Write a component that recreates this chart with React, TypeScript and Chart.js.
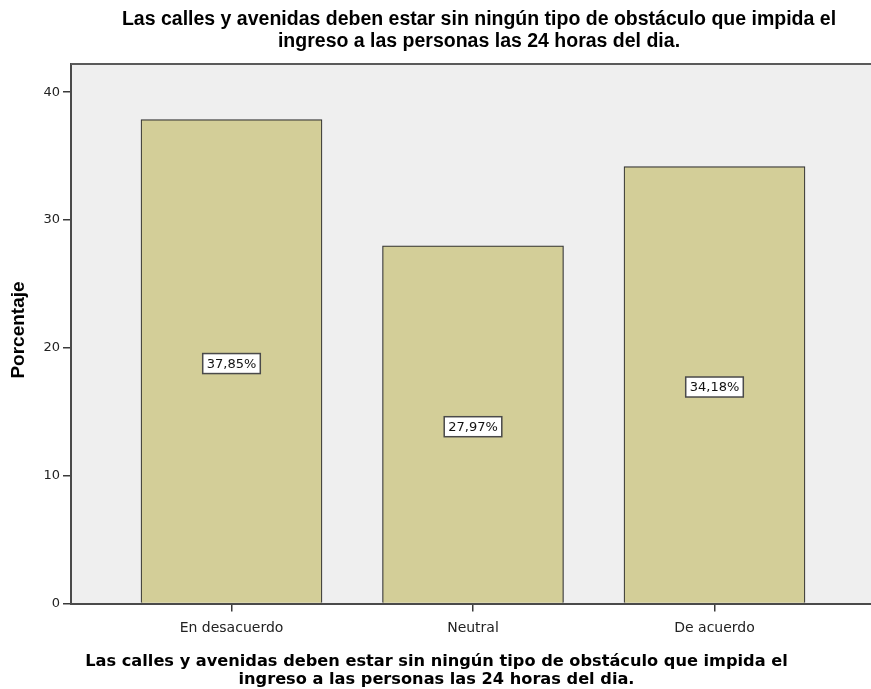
import React, { useEffect, useRef } from "react";
import { Chart, registerables } from "chart.js";

Chart.register(...registerables);

const categories = ["En desacuerdo", "Neutral", "De acuerdo"];
const percentages = [37.85, 27.97, 34.18];
const valueLabels = ["37,85%", "27,97%", "34,18%"];
const yTicks = [0, 10, 20, 30, 40];
const titleLines = [
  "Las calles y avenidas deben estar sin ningún tipo de obstáculo que impida el",
  "ingreso a las personas las 24 horas del dia.",
];
const yAxisTitle = "Porcentaje";

const CANVAS_W = 871;
const CANVAS_H = 689;

export default function App() {
  const ref = useRef<HTMLCanvasElement | null>(null);

  useEffect(() => {
    const canvas = ref.current;
    if (!canvas) return;

    const bgPlugin = {
      id: "bgPlugin",
      beforeDraw(chart: any) {
        const { ctx, chartArea } = chart;
        ctx.save();
        ctx.fillStyle = "#efefef";
        ctx.fillRect(chartArea.left, chartArea.top, chartArea.right - chartArea.left, chartArea.bottom - chartArea.top);
        ctx.restore();
      },
      afterDraw(chart: any) {
        const { ctx, chartArea } = chart;
        ctx.save();
        ctx.strokeStyle = "#5a5a5a";
        ctx.lineWidth = 2;
        ctx.beginPath();
        ctx.moveTo(chartArea.left, chartArea.top);
        ctx.lineTo(chartArea.right, chartArea.top);
        ctx.stroke();

        // value labels
        const meta = chart.getDatasetMeta(0);
        const yScale = chart.scales.y;
        ctx.font = "13px 'DejaVu Sans', sans-serif";
        ctx.textAlign = "center";
        ctx.textBaseline = "middle";
        meta.data.forEach((bar: any, i: number) => {
          const cx = bar.x;
          const cy = yScale.getPixelForValue(percentages[i] / 2) + 2;
          const txt = valueLabels[i];
          const w = ctx.measureText(txt).width + 8;
          const h = 20;
          ctx.fillStyle = "#ffffff";
          ctx.fillRect(cx - w / 2, cy - h / 2, w, h);
          ctx.strokeStyle = "#4a4a4a";
          ctx.lineWidth = 1.5;
          ctx.strokeRect(cx - w / 2, cy - h / 2, w, h);
          ctx.fillStyle = "#111111";
          ctx.fillText(txt, cx, cy + 1);
        });

        // chart title
        ctx.fillStyle = "#000000";
        ctx.font = "bold 19.5px 'Liberation Sans', Arial, sans-serif";
        ctx.textAlign = "center";
        ctx.textBaseline = "middle";
        ctx.fillText(titleLines[0], 479, 20);
        ctx.fillText(titleLines[1], 479, 42);

        // x axis title
        ctx.font = "bold 16.2px 'DejaVu Sans', sans-serif";
        ctx.fillText(titleLines[0], 436.5, 662);
        ctx.fillText(titleLines[1], 436.5, 680);

        // y axis title
        ctx.save();
        ctx.translate(24, 330);
        ctx.rotate(-Math.PI / 2);
        ctx.textBaseline = "alphabetic";
        ctx.font = "bold 19px 'Liberation Sans', Arial, sans-serif";
        ctx.fillText(yAxisTitle, 0, 0);
        ctx.restore();

        ctx.restore();
      },
    };

    const xMin = -0.6646;
    const chart = new Chart(canvas, {
      type: "bar",
      data: {
        datasets: [
          {
            data: categories.map((_, i) => ({ x: i, y: percentages[i] })),
            backgroundColor: "#d3ce98",
            borderColor: "#333333",
            borderWidth: 1.2,
            barThickness: 181,
          } as any,
        ],
      },
      options: {
        responsive: false,
        animation: false,
        layout: { padding: { top: 64, right: 0, bottom: 0, left: 0 } },
        plugins: {
          legend: { display: false },
          tooltip: { enabled: false },
          title: { display: false },
        },
        scales: {
          x: {
            type: "linear",
            offset: false,
            min: xMin,
            max: xMin + 800 / 241.5,
            afterBuildTicks(scale: any) {
              scale.ticks = categories.map((_, i) => ({ value: i }));
            },
            afterFit(scale: any) {
              scale.height = 85.5;
            },
            ticks: {
              autoSkip: false,
              maxRotation: 0,
              color: "#222222",
              font: { family: "'DejaVu Sans', sans-serif", size: 14 },
              padding: 8,
              callback: (v: any) => categories[Math.round(Number(v))] ?? "",
            },
            grid: { offset: false, drawOnChartArea: false, drawTicks: true, tickLength: 8, color: "#3a3a3a", lineWidth: 1.5 },
            border: { display: true, color: "#4a4a4a", width: 2 },
          },
          y: {
            type: "linear",
            min: 0,
            max: 42.2,
            afterBuildTicks(scale: any) {
              scale.ticks = yTicks.map((v) => ({ value: v }));
            },
            afterFit(scale: any) {
              scale.width = 71;
            },
            ticks: {
              color: "#222222",
              font: { family: "'DejaVu Sans', sans-serif", size: 13 },
              padding: 3,
            },
            grid: { drawOnChartArea: false, drawTicks: true, tickLength: 8, color: "#3a3a3a", lineWidth: 1.5 },
            border: { display: true, color: "#4a4a4a", width: 2 },
          },
        },
      } as any,
      plugins: [bgPlugin],
    });

    return () => chart.destroy();
  }, []);

  return (
    <div style={{ position: "fixed", left: 0, top: 0, width: 871, height: 689, overflow: "hidden", background: "#ffffff" }}>
      <canvas ref={ref} width={CANVAS_W} height={CANVAS_H} style={{ width: CANVAS_W, height: CANVAS_H, display: "block" }} />
    </div>
  );
}
